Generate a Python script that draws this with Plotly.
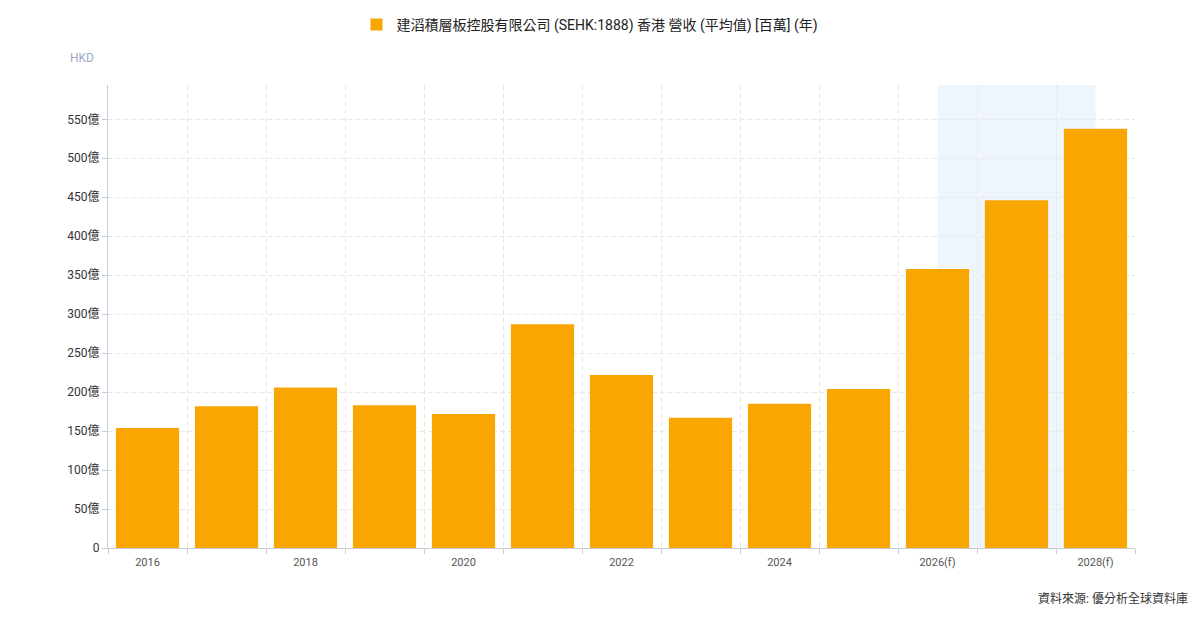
import plotly.graph_objects as go

years = [2016, 2017, 2018, 2019, 2020, 2021, 2022, 2023, 2024, 2025, 2026, 2027, 2028]
revenue_yi = [154, 182, 206, 183, 172, 287, 222, 167, 185, 204, 358, 446, 538]  # 億 HKD
tick_years = [2016, 2018, 2020, 2022, 2024, 2026, 2028]
tick_text = ["2016", "2018", "2020", "2022", "2024", "2026(f)", "2028(f)"]
y_ticks = [0, 50, 100, 150, 200, 250, 300, 350, 400, 450, 500, 550]
y_text = ["0"] + [f"{v}億" for v in y_ticks[1:]]
series_name = "建滔積層板控股有限公司 (SEHK:1888) 香港 營收 (平均值) [百萬] (年)"

FONT = "Roboto, 'Noto Sans CJK TC', sans-serif"
GRID = "#E8E8E8"
AXIS = "#C9CCD6"

fig = go.Figure()
fig.add_trace(go.Bar(
    x=years, y=revenue_yi, name=series_name,
    marker=dict(color="#F9A602", line=dict(width=0)),
    width=0.8, showlegend=True,
))

fig.add_shape(type="rect", xref="x", yref="paper", x0=2026, x1=2028, y0=0, y1=1,
              fillcolor="#EEF5FC", line=dict(width=0), layer="below")

fig.update_layout(
    width=1200, height=619,
    margin=dict(l=108, r=65, t=85, b=71),
    paper_bgcolor="white", plot_bgcolor="white",
    font=dict(family=FONT, size=12, color="#333333"),
    showlegend=True,
    legend=dict(orientation="h", x=0.5 - 10 / 1200, xanchor="center", xref="container",
                y=1 - 25 / 619, yref="container", yanchor="middle",
                font=dict(size=14, color="#222222"), itemclick=False),
    bargap=0.2,
)
fig.add_annotation(text="HKD", xref="paper", yref="paper", x=-40 / 1027, y=(619 - 58 - 71) / 463,
                   xanchor="left", yanchor="middle", showarrow=False,
                   font=dict(size=12, color="#9AABC8"))
fig.add_annotation(text="資料來源: 優分析全球資料庫", xref="paper", yref="paper",
                   x=(1190 - 108) / 1027, y=(619 - 598 - 71) / 463, xanchor="right", yanchor="middle",
                   showarrow=False, font=dict(size=12, color="#333333"))

fig.update_xaxes(
    range=[2015.5, 2028.5],
    tickvals=tick_years, ticktext=tick_text,
    showgrid=False, ticks="", tickfont=dict(size=11, color="#555555"),
    ticklabelstandoff=4,
    showline=True, linecolor=AXIS, linewidth=1,
    minor=dict(tick0=2015.5, dtick=1, showgrid=True, gridcolor=GRID,
               griddash="5px,3px", ticks="outside", ticklen=5, tickcolor=AXIS),
    zeroline=False,
)
fig.update_yaxes(
    range=[0, 594],
    tickvals=y_ticks, ticktext=y_text,
    showgrid=True, gridcolor=GRID, griddash="5px,3px",
    ticks="outside", ticklen=5, tickcolor=AXIS,
    showline=True, linecolor=AXIS, linewidth=1,
    tickfont=dict(size=12, color="#333333"),
    zeroline=False,
)

fig.write_html("out.html")
